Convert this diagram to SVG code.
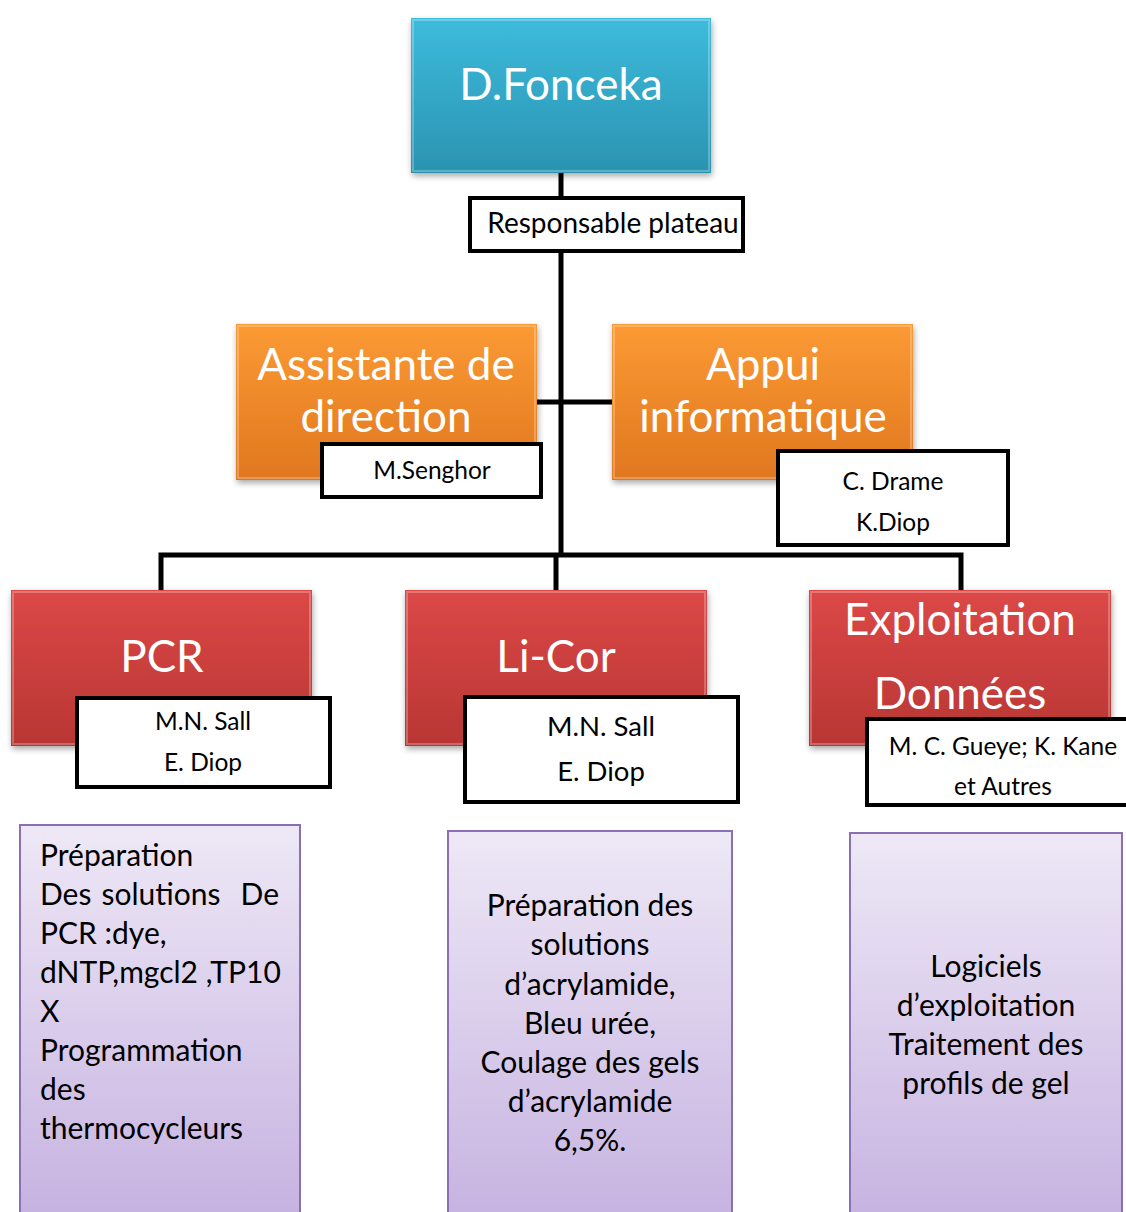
<svg xmlns="http://www.w3.org/2000/svg" width="1126" height="1212" viewBox="0 0 1126 1212">
<defs>
<linearGradient id="gTeal" x1="0" y1="0" x2="0" y2="1"><stop offset="0" stop-color="#3dbbdc"/><stop offset="1" stop-color="#2b93b1"/></linearGradient>
<linearGradient id="gOrange" x1="0" y1="0" x2="0" y2="1"><stop offset="0" stop-color="#fb9a34"/><stop offset="1" stop-color="#e0771f"/></linearGradient>
<linearGradient id="gRed" x1="0" y1="0" x2="0" y2="1"><stop offset="0" stop-color="#dc4847"/><stop offset="1" stop-color="#b83634"/></linearGradient>
<linearGradient id="gPurple" x1="0" y1="0" x2="0" y2="1"><stop offset="0" stop-color="#eee8f6"/><stop offset="1" stop-color="#c5b1e0"/></linearGradient>
<filter id="sh" x="-10%" y="-10%" width="125%" height="130%"><feGaussianBlur in="SourceAlpha" stdDeviation="3"/><feOffset dx="1" dy="3"/><feComponentTransfer><feFuncA type="linear" slope="0.35"/></feComponentTransfer><feMerge><feMergeNode/><feMergeNode in="SourceGraphic"/></feMerge></filter>
</defs>
<style>
.t{font-family:Lato,"Open Sans","Liberation Sans",sans-serif;}
.w{fill:#fff;text-anchor:middle;font-size:44px;}
.lab{fill:#fff;stroke:#000;stroke-width:4;}
.n{fill:#000;text-anchor:middle;font-size:24.5px;}
.p{fill:#000;font-size:30px;}
.pc{fill:#000;font-size:30px;text-anchor:middle;}
.bev{fill:none;stroke:#fff;stroke-opacity:0.25;stroke-width:2;}
.con{stroke:#000;stroke-width:5;fill:none;}
.pb{fill:url(#gPurple);stroke:#8a70b2;stroke-width:2;}
</style>
<g id="connectors">
<line class="con" x1="561" y1="173" x2="561" y2="555"/>
<line class="con" x1="537" y1="402" x2="612" y2="402"/>
<polyline class="con" points="161,590 161,555 961,555 961,590"/>
<line class="con" x1="556" y1="555" x2="556" y2="590"/>
</g>
<g id="n-fonceka" class="t">
<rect x="411" y="18" width="300" height="155" fill="url(#gTeal)" filter="url(#sh)"/>
<rect class="bev" x="413" y="20" width="296" height="151"/>
<text class="w" x="561" y="100">D.Fonceka</text>
</g>
<g id="n-responsable" class="t">
<rect class="lab" x="470" y="198" width="273" height="53"/>
<text class="n" x="613" y="233" style="font-size:28px">Responsable plateau</text>
</g>
<g id="n-assistante" class="t">
<rect x="236" y="324" width="301" height="156" fill="url(#gOrange)" filter="url(#sh)"/>
<rect class="bev" x="238" y="326" width="297" height="152"/>
<text class="w" x="386" y="380">Assistante de</text>
<text class="w" x="386" y="432">direction</text>
</g>
<g id="n-senghor" class="t">
<rect class="lab" x="322" y="444" width="219" height="53"/>
<text class="n" x="432" y="479">M.Senghor</text>
</g>
<g id="n-appui" class="t">
<rect x="612" y="324" width="301" height="156" fill="url(#gOrange)" filter="url(#sh)"/>
<rect class="bev" x="614" y="326" width="297" height="152"/>
<text class="w" x="763" y="380">Appui</text>
<text class="w" x="763" y="432">informatique</text>
</g>
<g id="n-drame" class="t">
<rect class="lab" x="778" y="451" width="230" height="94"/>
<text class="n" x="893" y="490">C. Drame</text>
<text class="n" x="893" y="531">K.Diop</text>
</g>
<g id="n-pcr" class="t">
<rect x="11" y="590" width="301" height="156" fill="url(#gRed)" filter="url(#sh)"/>
<rect class="bev" x="13" y="592" width="297" height="152"/>
<text class="w" x="162" y="672">PCR</text>
</g>
<g id="n-pcr-names" class="t">
<rect class="lab" x="77" y="698" width="253" height="89"/>
<text class="n" x="203" y="730">M.N. Sall</text>
<text class="n" x="203" y="771">E. Diop</text>
</g>
<g id="n-licor" class="t">
<rect x="405" y="590" width="302" height="156" fill="url(#gRed)" filter="url(#sh)"/>
<rect class="bev" x="407" y="592" width="298" height="152"/>
<text class="w" x="556" y="672">Li-Cor</text>
</g>
<g id="n-licor-names" class="t">
<rect class="lab" x="465" y="697" width="273" height="105"/>
<text class="n" x="601" y="736" style="font-size:27.5px">M.N. Sall</text>
<text class="n" x="601" y="781" style="font-size:27.5px">E. Diop</text>
</g>
<g id="n-exploitation" class="t">
<rect x="809" y="590" width="302" height="156" fill="url(#gRed)" filter="url(#sh)"/>
<rect class="bev" x="811" y="592" width="298" height="152"/>
<text class="w" x="960" y="635">Exploitation</text>
<text class="w" x="960" y="709">Données</text>
</g>
<g id="n-exploitation-names" class="t">
<rect class="lab" x="867" y="719" width="265" height="86"/>
<text class="n" x="1003" y="755">M. C. Gueye; K. Kane</text>
<text class="n" x="1003" y="795">et Autres</text>
</g>
<g id="n-pcr-tasks" class="t">
<rect class="pb" x="20" y="825" width="280" height="400"/>
<text class="p" x="40" y="866">Préparation</text>
<text class="p" x="40" y="905">Des</text>
<text class="p" x="161" y="905" text-anchor="middle">solutions</text>
<text class="p" x="279" y="905" text-anchor="end">De</text>
<text class="p" x="40" y="944">PCR :dye,</text>
<text class="p" x="40" y="983">dNTP,mgcl2 ,TP10</text>
<text class="p" x="40" y="1022">X</text>
<text class="p" x="40" y="1061">Programmation</text>
<text class="p" x="40" y="1100">des</text>
<text class="p" x="40" y="1139">thermocycleurs</text>
</g>
<g id="n-licor-tasks" class="t">
<rect class="pb" x="448" y="831" width="284" height="400"/>
<text class="pc" x="590" y="916">Préparation des</text>
<text class="pc" x="590" y="955">solutions</text>
<text class="pc" x="590" y="995">d’acrylamide,</text>
<text class="pc" x="590" y="1034">Bleu urée,</text>
<text class="pc" x="590" y="1073">Coulage des gels</text>
<text class="pc" x="590" y="1112">d’acrylamide</text>
<text class="pc" x="590" y="1151">6,5%.</text>
</g>
<g id="n-exploitation-tasks" class="t">
<rect class="pb" x="850" y="833" width="272" height="400"/>
<text class="pc" x="986" y="977">Logiciels</text>
<text class="pc" x="986" y="1016">d’exploitation</text>
<text class="pc" x="986" y="1055">Traitement des</text>
<text class="pc" x="986" y="1094">profils de gel</text>
</g>
</svg>
